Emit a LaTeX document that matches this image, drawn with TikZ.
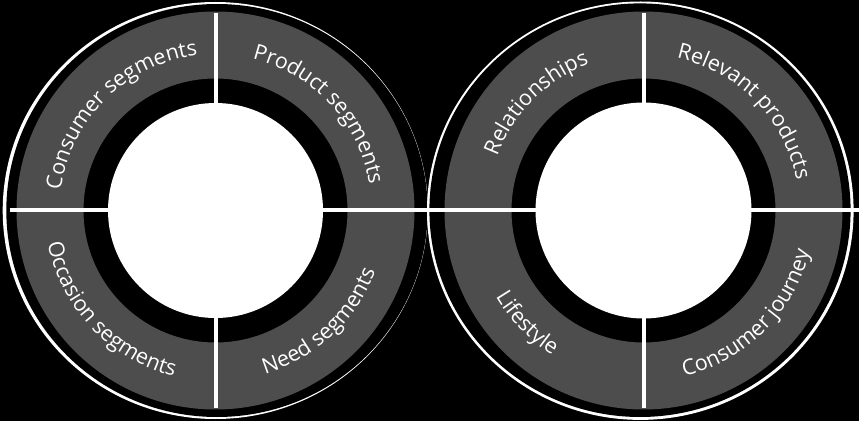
\documentclass[tikz,border=0pt]{standalone}
\usepackage{fontspec}
\setmainfont{Open Sans}
\usetikzlibrary{decorations.text}
\definecolor{ringgray}{RGB}{77,77,77}
\newcommand\lblfont{\fontsize{21.5}{21.5}\selectfont}
\tikzset{
  toptext/.style={decorate, decoration={text along path, text align=center, text color=white, text={|\lblfont|#1}}},
  bottext/.style={decorate, decoration={text along path, text align=center, text color=white, text={|\lblfont|#1}}},
  divider/.style={draw=white, line width=4.6pt},
}
\begin{document}
\begin{tikzpicture}[x=1pt,y=1pt]
\fill[black] (0,0) rectangle (859,421);
\useasboundingbox (0,0) rectangle (859,421);
% outer rings (crescent-like)
\fill[white] (215.3,210.5) ellipse [x radius=212.6, y radius=208.5];
\fill[black] (217,210.5) ellipse [x radius=210.7, y radius=206.5];
\fill[white] (640.3,210.3) ellipse [x radius=213.3, y radius=209.2];
\fill[black] (640.0,210.8) ellipse [x radius=210.6, y radius=206.8];
% left disc
\begin{scope}[shift={(215.5,210.5)}]
  \fill[ringgray, even odd rule] (0,0) circle (199) (0,0) circle (132);
  \fill[white] (0,0) circle (107.5);
  \path[toptext={Consumer segments}] (194.5:156) arc[start angle=194.5, end angle=74.5, radius=156];
  \path[toptext={Product segments}] (103:156) arc[start angle=103, end angle=-17, radius=156];
  \path[bottext={Occasion segments}] (163.5:171) arc[start angle=163.5, end angle=283.5, radius=171];
  \path[bottext={Need segments}] (253:171) arc[start angle=253, end angle=373, radius=171];
\end{scope}
% right disc
\begin{scope}[shift={(643.5,210.5)}]
  \fill[ringgray, even odd rule] (0,0) circle (199) (0,0) circle (132);
  \fill[white] (0,0) circle (108);
  \path[toptext={Relationships}] (195:156) arc[start angle=195, end angle=75, radius=156];
  \path[toptext={Relevant products}] (104.5:156) arc[start angle=104.5, end angle=-15.5, radius=156];
  \path[bottext={Lifestyle}] (164:171) arc[start angle=164, end angle=284, radius=171];
  \path[bottext={Consumer journey}] (255:171) arc[start angle=255, end angle=375, radius=171];
\end{scope}
% dividers
\coordinate (hl) at (9.5,211);
\coordinate (hr) at (859,211);
\coordinate (v1t) at (216,408);
\coordinate (v1b) at (216,13);
\coordinate (v2t) at (644,408);
\coordinate (v2b) at (644,13);
\draw[divider] (hl) -- (hr);
\draw[divider] (v1t) -- (v1b);
\draw[divider] (v2t) -- (v2b);
\end{tikzpicture}
\end{document}
